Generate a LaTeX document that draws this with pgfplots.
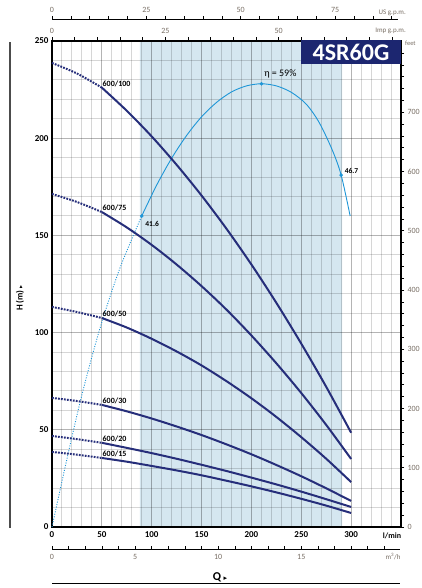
\documentclass[border=0pt]{standalone}
\usepackage{fontspec}
\setmainfont{Carlito}
\newfontfamily\dejavu{DejaVu Sans}
\usepackage{pgfplots}
\pgfplotsset{compat=1.18}
\definecolor{navy}{RGB}{38,46,122}
\definecolor{effblue}{RGB}{30,150,215}
\definecolor{shadeblue}{RGB}{213,231,240}
\definecolor{titlebox}{RGB}{28,38,112}
\definecolor{scalegray}{RGB}{120,110,100}
\begin{document}
\begin{tikzpicture}
\begin{axis}[
  set layers,
  at={(52pt,61pt)}, anchor=south west,
  scale only axis, width=349pt, height=486pt,
  xmin=0, xmax=350, ymin=0, ymax=250,
  xtick={0,50,...,300}, ytick={0,50,...,250},
  minor xtick={10,20,...,340}, minor ytick={10,20,...,240},
  grid=both,
  major grid style={draw=black, opacity=0.16, line width=1pt},
  minor grid style={draw=black, opacity=0.16, line width=1pt},
  major tick length=0pt, minor tick length=0pt,
  axis line style={line width=1.6pt, black},
  /pgf/number format/assume math mode=true,
  ticklabel style={font=\fontsize{9}{10}\selectfont\bfseries},
  xticklabel style={yshift=-1pt},
  clip=false,
]
\addplot[draw=none, fill=shadeblue, on layer=axis background] coordinates {(88,0) (291,0) (291,250) (88,250)} \closedcycle;

% efficiency curve (drawn on the H scale)
\addplot[effblue, line width=0.9pt, dash pattern=on 1pt off 1.5pt, smooth] coordinates {
(0,0) (15,35) (30,68) (48,102) (68,133) (90,160)};
\addplot[effblue, line width=0.9pt, smooth] coordinates {
(90,160) (105,175.9) (120,189.7) (135,201.4) (150,211) (165,218.4) (180,223.8) (195,226.9) (210,228) (225,226.9) (240,223.6) (255,217.5) (268,208) (281,194) (290,181) (299,160)};
\addplot[only marks, mark=*, mark size=1.6pt, effblue] coordinates {(90,160) (210,228) (290,181)};

% pump curves: dotted parts
\addplot[navy, line width=2pt, dash pattern=on 1.8pt off 1.2pt, smooth] coordinates {(0,238.7) (25,233.3) (50,226)};
\addplot[navy, line width=2pt, dash pattern=on 1.8pt off 1.2pt, smooth] coordinates {(0,171.3) (25,167.2) (50,162)};
\addplot[navy, line width=2pt, dash pattern=on 1.8pt off 1.2pt, smooth] coordinates {(0,113.2) (25,110.6) (50,107.5)};
\addplot[navy, line width=2pt, dash pattern=on 1.8pt off 1.2pt, smooth] coordinates {(0,66.4) (25,64.8) (50,62.8)};
\addplot[navy, line width=2pt, dash pattern=on 1.8pt off 1.2pt, smooth] coordinates {(0,46.8) (25,45.2) (50,43.3)};
\addplot[navy, line width=2pt, dash pattern=on 1.8pt off 1.2pt, smooth] coordinates {(0,38.6) (25,37.2) (50,35.5)};
% pump curves: solid parts
\addplot[navy, line width=2pt, smooth] coordinates {
(50,226.0) (75,214.1) (100,200.9) (125,186.3) (150,170.5) (175,153.4) (200,135.0) (225,115.3) (250,94.3) (275,72.1) (300,48.5)};
\addplot[navy, line width=2pt, smooth] coordinates {
(50,162.0) (75,154.1) (100,145.1) (125,135.0) (150,123.9) (175,111.8) (200,98.5) (225,84.2) (250,68.9) (275,52.5) (300,35.0)};
\addplot[navy, line width=2pt, smooth] coordinates {
(50,107.5) (75,102.6) (100,96.8) (125,90.3) (150,83.1) (175,75.0) (200,66.2) (225,56.6) (250,46.2) (275,35.1) (300,23.1)};
\addplot[navy, line width=2pt, smooth] coordinates {
(50,62.8) (75,59.5) (100,55.8) (125,51.7) (150,47.3) (175,42.5) (200,37.4) (225,31.9) (250,26.1) (275,19.9) (300,13.4)};
\addplot[navy, line width=2pt, smooth] coordinates {
(50,43.3) (75,40.7) (100,38.0) (125,35.1) (150,32.0) (175,28.8) (200,25.4) (225,21.9) (250,18.2) (275,14.3) (300,10.3)};
\addplot[navy, line width=2pt, smooth] coordinates {
(50,35.5) (75,33.6) (100,31.4) (125,29.1) (150,26.6) (175,23.8) (200,20.9) (225,17.8) (250,14.5) (275,11.0) (300,7.2)};

% curve labels
\begin{scope}[every node/.style={font=\fontsize{8}{9}\selectfont\bfseries, inner sep=0.6pt, anchor=south west}]
\node at (axis cs:50,226) {600/100};
\node at (axis cs:50,162) {600/75};
\node at (axis cs:50,107.5) {600/50};
\node at (axis cs:50,62.8) {600/30};
\node at (axis cs:50,43.3) {600/20};
\node at (axis cs:50,35.5) {600/15};
\end{scope}
\node[font=\fontsize{7.5}{8}\selectfont\bfseries, anchor=west, inner sep=0.5pt] at (axis cs:93,156) {41.6};
\node[font=\fontsize{7.5}{8}\selectfont\bfseries, anchor=west, inner sep=0.5pt] at (axis cs:293,183) {46.7};
\node[font=\fontsize{10}{11}\selectfont, inner sep=0.5pt] at (axis cs:229,233) {η = 59\%};
\node[font=\fontsize{8}{9}\selectfont\bfseries, inner sep=0pt] at (axis cs:341,-4.6) {l/min};
\end{axis}

% feet axis (right)
\begin{axis}[
  at={(52pt,61pt)}, anchor=south west,
  scale only axis, width=349pt, height=486pt,
  xmin=0, xmax=350, ymin=0, ymax=820.21,
  axis x line=none, axis y line*=right,
  ytick={0,100,...,700}, minor ytick={20,40,...,800},
  tick align=outside, major tick length=3pt, minor tick length=3pt,
  tick style={black, line width=0.6pt},
  axis line style={line width=1.6pt, black},
  /pgf/number format/assume math mode=true,
  yticklabel style={font=\fontsize{8}{9}\selectfont, text=scalegray},
]
\addplot[draw=none] coordinates {(0,0)};
\end{axis}

\begin{scope}[x=1pt, y=1pt]
% title box
\fill[titlebox] (301,524) rectangle (401,548);
\node[text=white, font=\fontsize{24}{24}\selectfont\bfseries] at (351,536) {4SR60G};
\node[text=scalegray, font=\fontsize{6.5}{7}\selectfont, anchor=west, inner sep=0pt] at (405,545) {feet};

% US g.p.m. scale
\draw[black, line width=0.6pt] (52,569) -- (398,569);
\foreach \g in {0,5,...,90} \draw[black, line width=0.6pt] ({52+\g*3.7854*0.99714},569) -- ++(0,3);
\foreach \g in {0,25,50,75} \node[text=scalegray, font=\fontsize{8}{9}\selectfont] at ({52+\g*3.7854*0.99714},578) {\g};
\node[text=scalegray, font=\fontsize{7}{8}\selectfont, anchor=east, inner sep=0pt] at (406,575) {US g.p.m.};

% Imp g.p.m. scale
\foreach \g in {0,5,...,75} \draw[black, line width=0.6pt] ({52+\g*4.5461*0.99714},548) -- ++(0,3);
\foreach \g in {0,25,50} \node[text=scalegray, font=\fontsize{8}{9}\selectfont] at ({52+\g*4.5461*0.99714},557) {\g};
\node[text=scalegray, font=\fontsize{7}{8}\selectfont, anchor=east, inner sep=0pt] at (406,557) {Imp g.p.m.};

% m3/h scale
\draw[black, line width=0.6pt] (52,39) -- (400,39);
\foreach \m in {0,1,...,20} \draw[black, line width=0.6pt] ({52+\m*16.6667*0.99714},39) -- ++(0,3);
\foreach \m in {0,5,10,15} \node[text=scalegray, font=\fontsize{8}{9}\selectfont] at ({52+\m*16.6667*0.99714},31) {\m};
\node[text=scalegray, font=\fontsize{7}{8}\selectfont] at (393,31) {m\textsuperscript{3}/h};

% Q label and bottom line
\node[font=\fontsize{12}{13}\selectfont\bfseries] at (220,11) {Q {\dejavu\fontsize{7}{8}\selectfont ▸}};
\draw[black, line width=1.3pt] (52,4.5) -- (400,4.5);

% H label and left line
\draw[gray!60!black, line width=1.5pt] (10,60) -- (10,546);
\node[rotate=90, font=\fontsize{9}{10}\selectfont\bfseries] at (20,290) {H (m) {\dejavu\fontsize{6}{7}\selectfont ▸}};
\end{scope}
\pgfresetboundingbox
\useasboundingbox (0pt,0pt) rectangle (421pt,588pt);
\end{tikzpicture}
\end{document}
